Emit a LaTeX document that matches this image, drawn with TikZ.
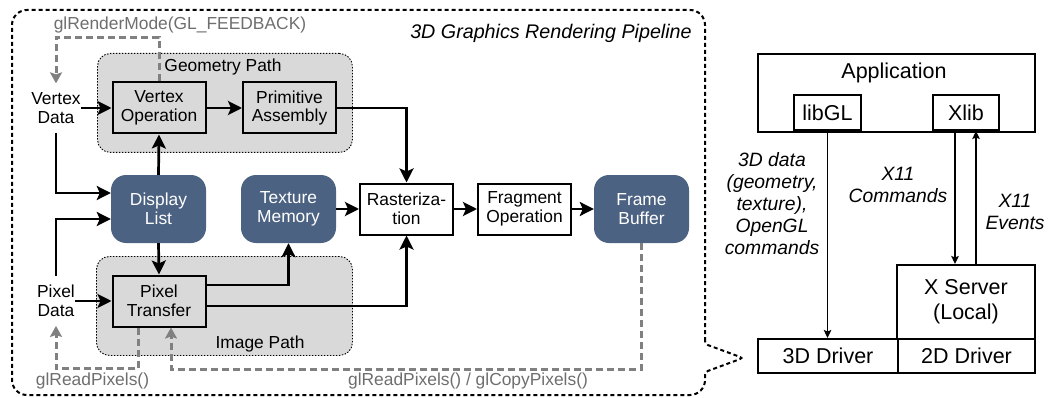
\documentclass[tikz,border=0pt]{standalone}
\usepackage{fontspec}
\setmainfont{Liberation Sans}
\usetikzlibrary{arrows.meta,calc}
\definecolor{pathgray}{RGB}{217,217,217}
\definecolor{memblue}{RGB}{76,98,130}
\definecolor{fbgray}{RGB}{128,128,128}
\definecolor{fbtext}{RGB}{110,110,110}

\begin{document}
\begin{tikzpicture}[x=1pt,y=-1pt,
  pfont/.style={font=\fontsize{17.4}{18.7}\selectfont},
  rfont/.style={font=\fontsize{21.5}{25}\selectfont},
  ifont/.style={font=\fontsize{19.3}{22}\selectfont\itshape},
  stagebox/.style={pfont, draw, line width=2pt, minimum width=93pt, minimum height=51pt, align=center, inner sep=0pt},
  membox/.style={pfont, fill=memblue, text=white, rounded corners=15pt, minimum width=95pt, minimum height=68pt, align=center, inner sep=0pt},
  region/.style={draw, fill=pathgray, line width=0.9pt, dash pattern=on 1.5pt off 1.5pt, rounded corners=13pt, inner sep=0pt, anchor=north west},
  srcdata/.style={pfont, align=center, inner xsep=0pt, inner ysep=9pt},
  flow/.style={line width=2.7pt, -{Stealth[length=14pt,width=14pt,inset=3pt]}},
  readback/.style={draw=fbgray, line width=3pt, dash pattern=on 7pt off 4pt, -{Stealth[length=11pt,width=12pt,inset=2pt]}},
  glcall/.style={pfont, text=fbtext, inner sep=0pt},
  rbox/.style={rfont, draw, line width=2pt, inner sep=0pt},
  link/.style={line width=1.6pt, -{Stealth[length=8pt,width=7.5pt,inset=1.5pt]}},
  frame/.style={line width=2pt, dash pattern=on 4pt off 3pt},
]
\useasboundingbox (0,0) rectangle (1048,398);

% pipeline frame with its callout towards the drivers
\draw[frame] (705,344) [rounded corners=15pt] -- (705,10) -- (12,10) -- (12,395) -- (705,395) [rounded corners=3pt] -- (705,372) -- (743,358) -- cycle;

% geometry and image path regions
\node[region, minimum width=255pt, minimum height=99pt] (geom) at (97,53) {};
\node[region, minimum width=256pt, minimum height=99pt] (img) at (96,256) {};
\node[pfont, inner sep=0pt] (geomlbl) at (223,67) {Geometry Path};
\node[pfont, inner sep=0pt] (imglbl) at (260,344) {Image Path};

\node[font=\fontsize{19.7}{22}\selectfont\itshape, inner sep=0pt] (title) at (551,33) {3D Graphics Rendering Pipeline};

% pipeline stages
\node[stagebox, fill=pathgray] (vop) at (159,108) {Vertex\\Operation};
\node[stagebox, fill=pathgray] (pa) at (289.5,108) {Primitive\\Assembly};
\node[stagebox, fill=pathgray] (pt) at (159,301) {Pixel\\Transfer};
\node[stagebox, fill=white] (ras) at (406.5,209) {Rasteriza-\\tion};
\node[stagebox, fill=white] (frag) at (524.5,209) {Fragment\\Operation};
\node[membox] (dl) at (158.5,209) {Display\\List};
\node[membox] (tm) at (288.5,209) {Texture\\Memory};
\node[membox] (fb) at (641.5,209) {Frame\\Buffer};
\node[srcdata] (vd) at (56,108) {Vertex\\Data};
\node[srcdata] (pd) at (56,301) {Pixel\\Data};

% data flow
\draw[flow] (vd.east) -- (vop.west);
\draw[flow] (vop.east) -- (pa.west);
\draw[flow] (pa.east) -| (ras.north);
\draw[flow] (dl.north) -- (vop.south);
\draw[flow] (dl.south) -- (pt.north);
\draw[flow] (vd.south) |- ($(dl.west)+(0,-16)$);
\draw[flow] (pd.north) |- ($(dl.west)+(0,10)$);
\draw[flow] (pd.east) -- (pt.west);
\draw[flow] (tm.east) -- (ras.west);
\draw[flow] (ras.east) -- (frag.west);
\draw[flow] (frag.east) -- (fb.west);
\draw[flow] ($(pt.east)+(0,-16)$) -| (tm.south);
\draw[flow] ($(pt.east)+(0,5)$) -| (ras.south);

% read-back paths
\draw[readback] (vop.north) -- ++(0,-44) -| (vd.north);
\draw[readback] ($(pt.south)+(-21,0)$) -- ++(0,41) -| (pd.south);
\draw[readback] (fb.south) -- ++(0,126) -| ($(pt.south)+(12,0)$);
\node[glcall] (fdlbl) at (180,25) {glRenderMode(GL\_FEEDBACK)};
\node[glcall] (rdlbl) at (92.5,381) {glReadPixels()};
\node[glcall] (cplbl) at (468,381) {glReadPixels() / glCopyPixels()};

% application and driver stack
\node[rbox, minimum width=277pt, minimum height=78pt, anchor=north west] (app) at (757,53) {};
\node[rfont, inner sep=0pt] (apptxt) at (894,73) {Application};
\node[rbox, minimum width=67pt, minimum height=35pt, anchor=south west] (libgl) at (793,131) {libGL};
\node[rbox, minimum width=66pt, minimum height=35pt, anchor=south west] (xlib) at (932,131) {Xlib};
\node[rbox, minimum width=138pt, minimum height=74pt, anchor=north west, align=center] (xs) at (896,264) {X Server\\(Local)};
\node[rbox, minimum width=140pt, minimum height=34pt, anchor=north west] (d3) at (757,338) {3D Driver};
\node[rbox, minimum width=137pt, minimum height=34pt, anchor=north west] (d2) at (897,338) {2D Driver};

\draw[link] (libgl.south) -- (libgl.south |- d3.north);
\draw[link] ($(xlib.south)+(-11,0)$) -- ($(xlib.south |- xs.north)+(-11,0)$);
\draw[link] ($(xlib.south |- xs.north)+(10,0)$) -- ($(xlib.south)+(10,0)$);

\node[ifont, align=center, inner sep=0pt] (datalbl) at (772,204) {3D data\\(geometry,\\texture),\\OpenGL\\commands};
\node[ifont, align=center, inner sep=0pt] (cmdlbl) at (898,185) {X11\\Commands};
\node[ifont, align=center, inner sep=0pt] (evlbl) at (1015,212) {X11\\Events};
\end{tikzpicture}
\end{document}
